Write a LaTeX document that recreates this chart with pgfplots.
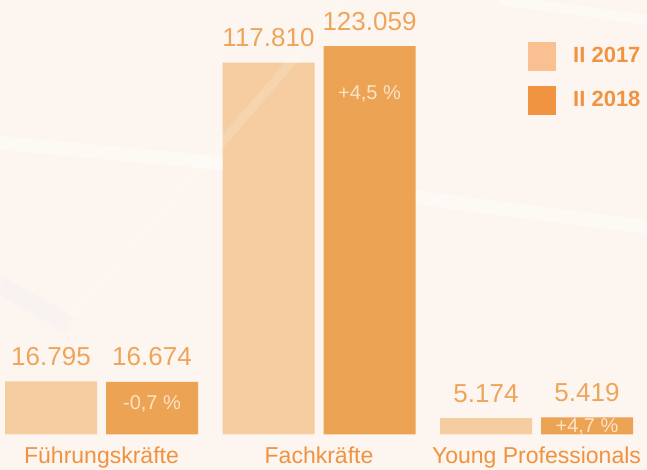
\documentclass[border=0pt]{standalone}
\usepackage{fontspec}
\setmainfont{Liberation Sans}
\usepackage{pgfplots}
\pgfplotsset{compat=1.18}
\definecolor{bg}{HTML}{FDF6F0}
\definecolor{lightbar}{HTML}{F5CDA0}
\definecolor{darkbar}{HTML}{EDA354}
\definecolor{legl}{HTML}{F9C192}
\definecolor{legd}{HTML}{F19441}
\definecolor{valtxt}{HTML}{EEA55B}
\definecolor{cattxt}{HTML}{F0923F}
\definecolor{pcttxt}{HTML}{FCE3C6}
\begin{document}
\begin{tikzpicture}
\begin{axis}[
  scale only axis, width=647pt, height=470pt,
  xmin=-0.46667, xmax=2.50805,
  ymin=-11246, ymax=137650,
  axis lines=none, xtick=\empty, ytick=\empty,
  clip=false,
  ybar=9pt, bar width=92pt,
  axis background/.style={fill=bg},
  nodes near coords, point meta=explicit symbolic,
  every node near coord/.append style={anchor=base, yshift=16pt, inner sep=0pt,
     font=\fontsize{26}{26}\selectfont, text=valtxt},
]
\coordinate (tl) at (rel axis cs:0,1);
\coordinate (br) at (rel axis cs:1,0);
% faint decorative background bands
\draw[white, opacity=0.45, line width=14pt] ([shift={(0pt,-143pt)}]tl) -- ([shift={(264pt,-167pt)}]tl);
\draw[white, opacity=0.45, line width=14pt] ([shift={(413pt,-197pt)}]tl) -- ([shift={(647pt,-227pt)}]tl);
\draw[white, opacity=0.45, line width=10pt] ([shift={(500pt,0pt)}]tl) -- ([shift={(647pt,-20pt)}]tl);
\draw[black!6, opacity=0.35, line width=18pt] ([shift={(0pt,-285pt)}]tl) -- ([shift={(70pt,-325pt)}]tl);

\addplot[fill=lightbar, draw=none] coordinates {(0,16795) [16.795] (1,117810) [117.810] (2,5174) [5.174]};
\addplot[fill=darkbar, draw=none] coordinates {(0,16674) [16.674] (1,123059) [123.059] (2,5419) [5.419]};

\draw[white, opacity=0.15, line width=9pt] ([shift={(60pt,-330pt)}]tl) -- ([shift={(345pt,0pt)}]tl);

% percentage changes
\node[anchor=base, inner sep=0pt, font=\fontsize{20}{20}\selectfont, text=pcttxt]
  at ([xshift=50.5pt,yshift=-27.4pt]axis cs:0,16674) {-0,7 \%};
\node[anchor=base, inner sep=0pt, font=\fontsize{20}{20}\selectfont, text=pcttxt]
  at ([xshift=50.5pt,yshift=-53.9pt]axis cs:1,123059) {+4,5 \%};
\node[anchor=base, inner sep=0pt, font=\fontsize{20}{20}\selectfont, text=pcttxt]
  at ([xshift=50.5pt,yshift=-15.3pt]axis cs:2,5419) {+4,7 \%};

% category labels
\node[anchor=base, inner sep=0pt, font=\fontsize{23}{23}\selectfont, text=cattxt] at (axis cs:0,-9346) {Führungskräfte};
\node[anchor=base, inner sep=0pt, font=\fontsize{23}{23}\selectfont, text=cattxt] at (axis cs:1,-9346) {Fachkräfte};
\node[anchor=base, inner sep=0pt, font=\fontsize{23}{23}\selectfont, text=cattxt] at (axis cs:2,-9346) {Young Professionals};

% legend
\fill[legl] ([shift={(528pt,-42pt)}]tl) rectangle ([shift={(556pt,-71pt)}]tl);
\fill[legd] ([shift={(528pt,-86pt)}]tl) rectangle ([shift={(556pt,-115pt)}]tl);
\node[anchor=base west, inner sep=0pt, font=\bfseries\fontsize{22}{22}\selectfont, text=legd]
  at ([shift={(573pt,-63pt)}]tl) {II 2017};
\node[anchor=base west, inner sep=0pt, font=\bfseries\fontsize{22}{22}\selectfont, text=legd]
  at ([shift={(573pt,-107pt)}]tl) {II 2018};
\end{axis}
\pgfresetboundingbox
\useasboundingbox (tl) rectangle (br);
\end{tikzpicture}
\end{document}
